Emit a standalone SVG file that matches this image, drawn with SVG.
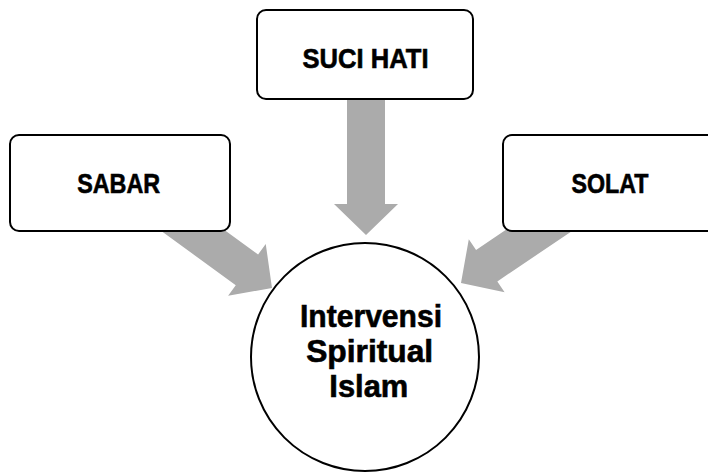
<svg xmlns="http://www.w3.org/2000/svg" width="708" height="472" viewBox="0 0 708 472">
  <defs>
    <style>
      .box { fill: #ffffff; stroke: #000000; stroke-width: 2; }
      .hub { fill: #ffffff; stroke: #000000; stroke-width: 2; }
      .arrow { fill: #ababab; stroke: none; }
      .label { font-family: "Liberation Sans", "Open Sans", sans-serif; font-weight: bold; fill: #000000; stroke: #000000; stroke-width: 0.6; text-anchor: middle; }
      .small { font-size: 28px; }
      .big { font-size: 31px; }
    </style>
    <!-- block arrow pointing along +x, tip at the origin -->
    <polygon id="blockArrow" points="0,0 -31,-32 -31,-19 -140,-19 -140,19 -31,19 -31,32"/>
  </defs>

  <rect width="708" height="472" fill="#ffffff"/>

  <g id="connectors">
    <use href="#blockArrow" class="arrow" transform="translate(366,235) rotate(90)"/>
    <use href="#blockArrow" class="arrow" transform="translate(272,288) rotate(36)"/>
    <use href="#blockArrow" class="arrow" transform="translate(461,283) rotate(146)"/>
  </g>

  <g id="node-suci-hati">
    <rect class="box" x="257" y="10" width="216" height="89" rx="9"/>
    <text class="label small" x="365.5" y="68" textLength="126" lengthAdjust="spacingAndGlyphs">SUCI HATI</text>
  </g>

  <g id="node-sabar">
    <rect class="box" x="10" y="135" width="220" height="96" rx="9"/>
    <text class="label small" x="118.7" y="193" textLength="83" lengthAdjust="spacingAndGlyphs">SABAR</text>
  </g>

  <g id="node-solat">
    <rect class="box" x="503" y="135" width="220" height="96" rx="9"/>
    <text class="label small" x="610" y="193" textLength="77" lengthAdjust="spacingAndGlyphs">SOLAT</text>
  </g>

  <g id="node-intervensi">
    <circle class="hub" cx="365" cy="357" r="114"/>
    <text class="label big" x="371" y="327" textLength="142" lengthAdjust="spacingAndGlyphs">Intervensi</text>
    <text class="label big" x="369.7" y="362" textLength="127" lengthAdjust="spacingAndGlyphs">Spiritual</text>
    <text class="label big" x="368.8" y="397" textLength="79" lengthAdjust="spacingAndGlyphs">Islam</text>
  </g>
</svg>
